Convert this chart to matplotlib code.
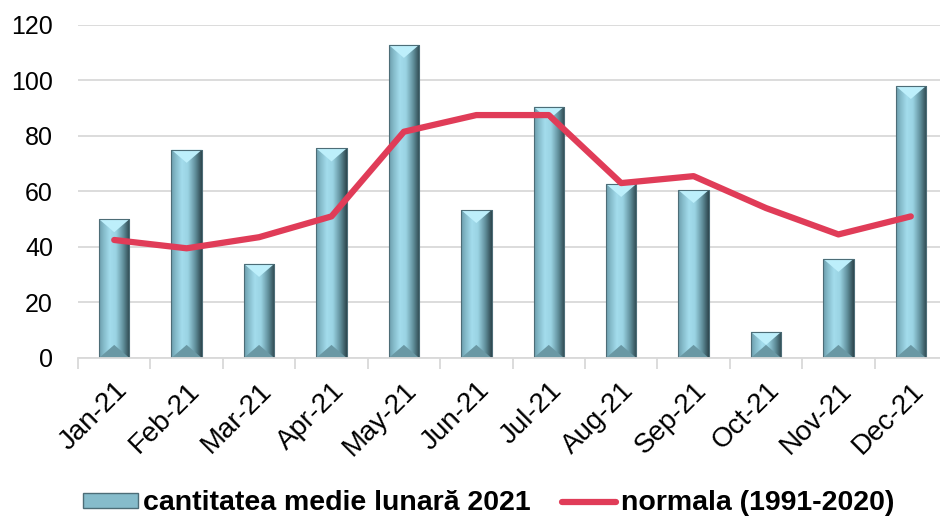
import numpy as np
import matplotlib; matplotlib.use('Agg')
import matplotlib.pyplot as plt
from matplotlib.colors import LinearSegmentedColormap
from matplotlib.patches import Polygon, Patch
from matplotlib.lines import Line2D

months = ['Jan-21', 'Feb-21', 'Mar-21', 'Apr-21', 'May-21', 'Jun-21',
          'Jul-21', 'Aug-21', 'Sep-21', 'Oct-21', 'Nov-21', 'Dec-21']
rain_2021 = [50.0, 75.0, 33.9, 75.5, 112.8, 53.3, 90.5, 62.7, 60.5, 9.4, 35.7, 98.0]
normal = [42.5, 39.5, 43.5, 51.0, 81.5, 87.5, 87.5, 63.0, 65.5, 54.0, 44.5, 51.0]

plt.rcParams['font.family'] = ['Liberation Sans', 'DejaVu Sans']

fig = plt.figure(figsize=(9.4, 5.18), dpi=100)
ax = fig.add_axes([0.083, 0.309, 0.9245, 0.643])

x = np.arange(len(months))
w = 0.42
bars = ax.bar(x, rain_2021, width=w, color='#8cc8d8', edgecolor='#4d6d77', lw=0.6, zorder=2)

# horizontal bevel-like gradient inside each bar
cmap = LinearSegmentedColormap.from_list('bev', [(0, '#6c9dac'), (0.15, '#86bccb'), (0.35, '#a3dcec'),
                                                  (0.55, '#9ad3e3'), (0.8, '#5f8d99'), (1, '#2e474e')])
grad = np.linspace(0, 1, 64).reshape(1, -1)
d = 4.7  # bevel depth in data units (~13 px)
for b, v in zip(bars, rain_2021):
    x0 = b.get_x(); x1 = x0 + b.get_width(); xc = (x0 + x1) / 2
    im = ax.imshow(grad, cmap=cmap, aspect='auto', extent=(x0, x1, 0, v), zorder=2.1)
    im.set_clip_path(b)
    dd = min(d, v / 2)
    ax.add_patch(Polygon([(x0, v), (x1, v), (xc, v - dd)], closed=True,
                         facecolor='#bdeffb', edgecolor='none', zorder=2.2))
    ax.add_patch(Polygon([(x0, 0), (x1, 0), (xc, dd)], closed=True,
                         facecolor='#6a98a4', edgecolor='none', zorder=2.2))
    ax.add_patch(Polygon([(x0, 0), (x0, v), (x1, v), (x1, 0)], closed=True,
                         facecolor='none', edgecolor='#4d6d77', lw=0.8, zorder=2.3))

ax.plot(x, normal, color='#e03c58', lw=4.5, solid_joinstyle='round', solid_capstyle='round', zorder=3)

ax.set_xlim(-0.5, 11.5)
ax.set_ylim(0, 120)
ax.set_yticks(range(0, 121, 20))
ax.yaxis.grid(True, color='#d9d9d9', lw=1.3, zorder=0)
ax.set_axisbelow(True)
for s in ['top', 'right', 'left']:
    ax.spines[s].set_visible(False)
ax.spines['bottom'].set_color('#d9d9d9')
ax.spines['bottom'].set_linewidth(1.3)
ax.tick_params(axis='y', length=0, pad=18, labelsize=18)
ax.set_xticks(x)
ax.set_xticklabels(months, rotation=45, ha='right', rotation_mode='anchor', fontsize=20)
ax.tick_params(axis='x', length=0, pad=14)
ax.set_xticks(np.arange(-0.5, 12, 1), minor=True)
ax.tick_params(axis='x', which='minor', length=8, color='#d9d9d9', width=1.3)

handles = [Patch(facecolor='#86bccb', edgecolor='#4d6d77'),
           Line2D([0], [0], color='#e03c58', lw=4.5, solid_capstyle='round')]
fig.legend(handles, ['cantitatea medie lunară 2021', 'normala (1991-2020)'],
           loc='center', bbox_to_anchor=(0.52, 0.028), ncol=2, frameon=False,
           prop={'weight': 'bold', 'size': 20.5}, handlelength=1.9, handleheight=0.42,
           handletextpad=0.18, columnspacing=1.1, borderpad=0)

fig.savefig('out.png', dpi=100)
